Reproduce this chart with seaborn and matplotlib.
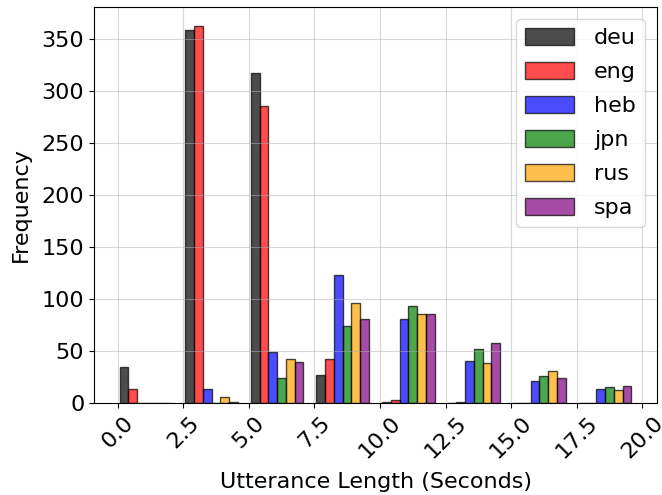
import numpy as np
import pandas as pd
import matplotlib
matplotlib.use("Agg")
import matplotlib.pyplot as plt
from matplotlib.patches import Patch
import seaborn as sns

# Histogram bins (centres, seconds) and per-language utterance counts
bin_centers = [1.08, 3.58, 6.08, 8.58, 11.08, 13.58, 16.08, 18.58]
languages = ["deu", "eng", "heb", "jpn", "rus", "spa"]
colors = ["black", "red", "blue", "green", "orange", "purple"]

deu = [35, 359, 318, 27, 1, 0, 0, 0]
eng = [13, 363, 286, 42, 3, 1, 0, 0]
heb = [0, 13, 49, 123, 81, 40, 21, 13]
jpn = [0, 0, 24, 74, 93, 52, 26, 15]
rus = [0, 6, 42, 96, 86, 38, 31, 12]
spa = [0, 1, 39, 81, 86, 58, 24, 16]

xtick_values = [0.0, 2.5, 5.0, 7.5, 10.0, 12.5, 15.0, 17.5, 20.0]

counts = {"deu": deu, "eng": eng, "heb": heb, "jpn": jpn, "rus": rus, "spa": spa}
df = pd.DataFrame(
    [(c, lang, v) for lang in languages for c, v in zip(bin_centers, counts[lang])],
    columns=["length", "lang", "count"],
)

fig, ax = plt.subplots(figsize=(6.62, 4.95), dpi=100)
fig.subplots_adjust(left=0.142, right=0.9925, top=0.986, bottom=0.186)

sns.barplot(
    data=df, x="length", y="count", hue="lang",
    hue_order=languages, palette=colors, native_scale=True,
    width=0.8, gap=0, saturation=1, errorbar=None,
    edgecolor="black", linewidth=1.0, alpha=0.7, ax=ax,
)

ax.set_xlim(-0.9, 20.56)
ax.set_ylim(0, 381.2)
ax.set_xticks(xtick_values)
ax.set_xticklabels([f"{v:.1f}" for v in xtick_values], rotation=45, fontsize=16)
ax.tick_params(axis="y", labelsize=16)
ax.grid(True, color="#b0b0b0", alpha=0.5)

ax.set_xlabel("Utterance Length (Seconds)", fontsize=16, labelpad=7)
ax.set_ylabel("Frequency", fontsize=16, labelpad=8)

handles = [Patch(facecolor=c, edgecolor="black", alpha=0.7, label=l)
           for c, l in zip(colors, languages)]
ax.legend(handles=handles, loc="upper right", fontsize=16,
          handlelength=2.2, handleheight=0.77, handletextpad=0.9,
          labelspacing=0.63, borderaxespad=0.55)

fig.savefig("out.png", dpi=100)
